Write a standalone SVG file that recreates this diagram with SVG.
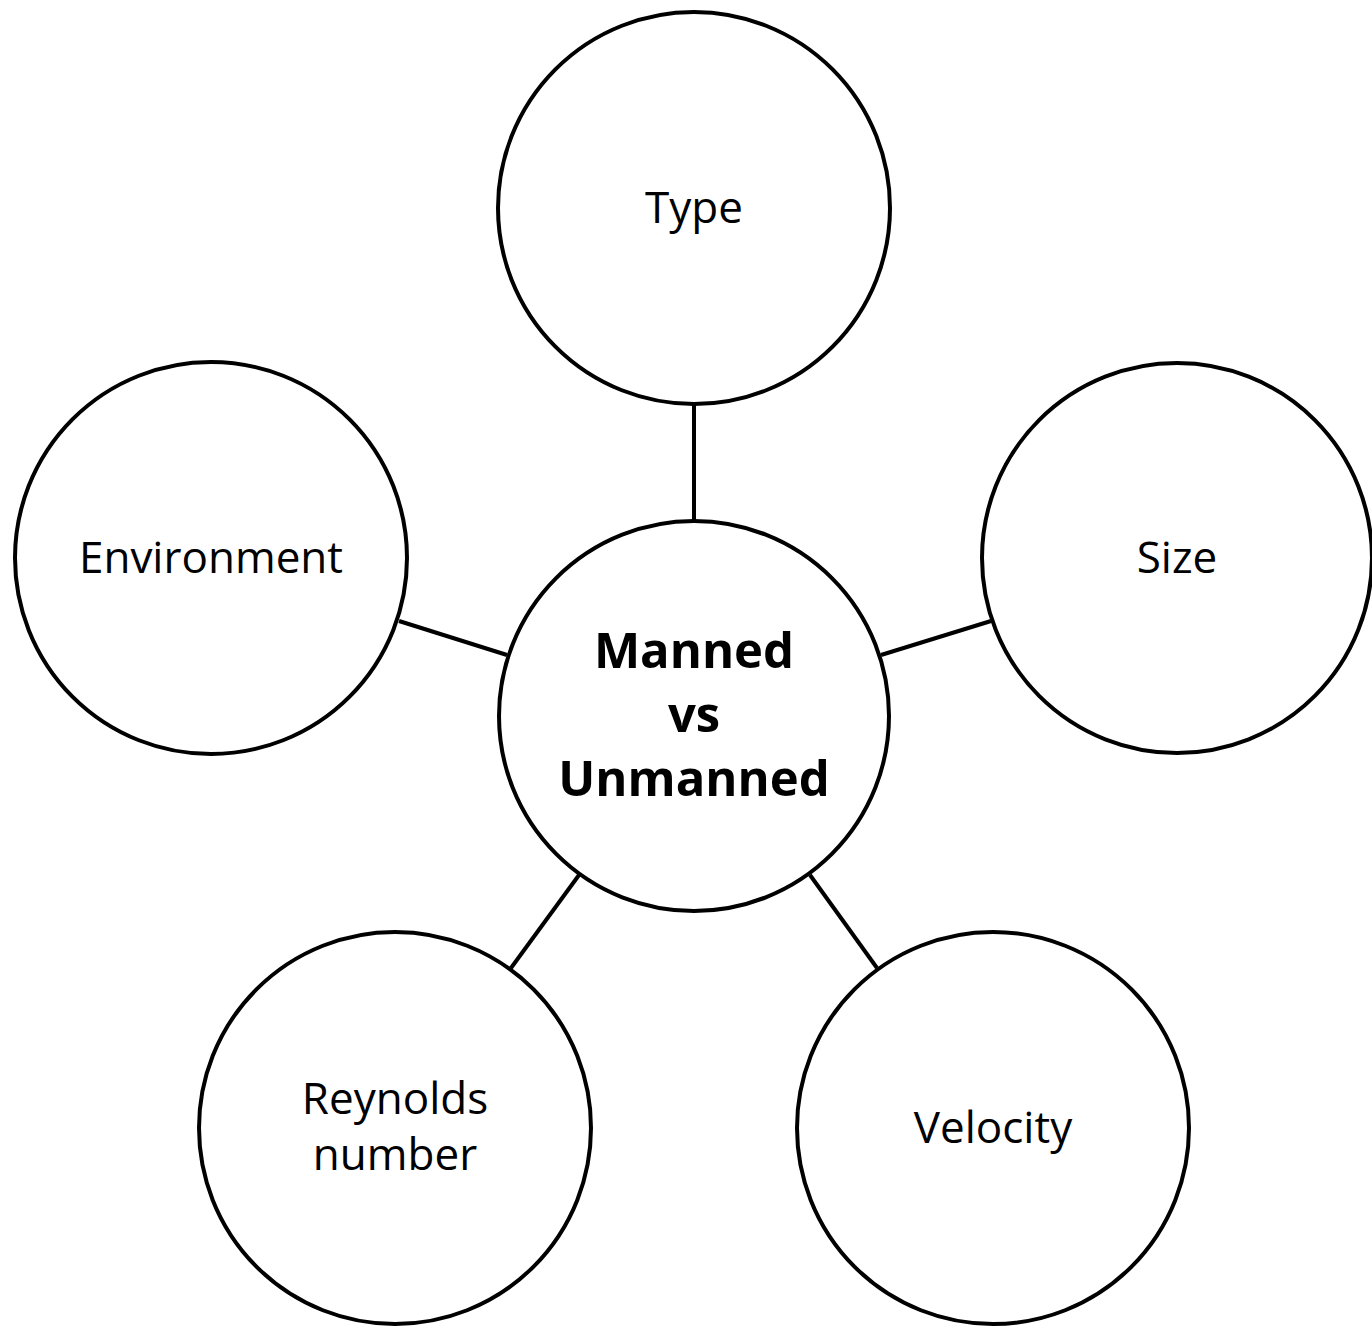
<svg xmlns="http://www.w3.org/2000/svg" width="1372" height="1326" viewBox="0 0 1372 1326">
<style>
.n{fill:#fff;stroke:#000;stroke-width:4}
.c{stroke:#000;stroke-width:4}
.t{font-family:"Open Sans","Noto Sans","Liberation Sans",sans-serif;font-size:44px;text-anchor:middle;fill:#000}
.b{font-family:"Open Sans","Noto Sans","Liberation Sans",sans-serif;font-size:49px;font-weight:bold;text-anchor:middle;fill:#000}
</style>
<rect width="1372" height="1326" fill="#fff"/>
<g id="connectors">
<line class="c" x1="694" y1="404" x2="694" y2="521"/>
<line class="c" x1="399" y1="621" x2="507" y2="655"/>
<line class="c" x1="991" y1="621" x2="881" y2="655"/>
<line class="c" x1="511" y1="968" x2="579" y2="875"/>
<line class="c" x1="877" y1="968" x2="810" y2="875"/>
</g>
<g id="center"><circle class="n" cx="694" cy="716" r="195"/>
<text class="b" x="694" y="668">Manned</text><text class="b" x="694" y="732">vs</text><text class="b" x="694" y="796">Unmanned</text></g>
<g id="type"><circle class="n" cx="694" cy="208" r="196"/><text class="t" x="694" y="223">Type</text></g>
<g id="size"><circle class="n" cx="1177" cy="558" r="195"/><text class="t" x="1177" y="573">Size</text></g>
<g id="environment"><circle class="n" cx="211" cy="558" r="196"/><text class="t" x="211" y="573">Environment</text></g>
<g id="reynolds"><circle class="n" cx="395" cy="1128" r="196"/><text class="t" x="395" y="1114">Reynolds</text><text class="t" x="395" y="1170">number</text></g>
<g id="velocity"><circle class="n" cx="993" cy="1128" r="196"/><text class="t" x="993" y="1143">Velocity</text></g>
</svg>
